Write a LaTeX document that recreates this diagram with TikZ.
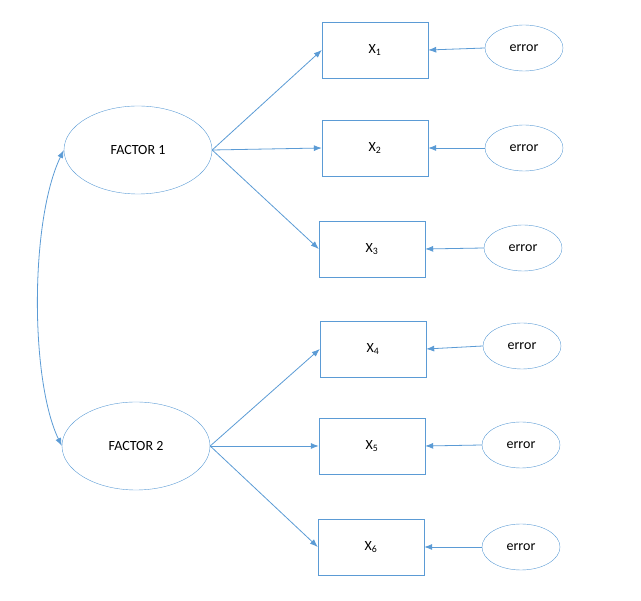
\documentclass[tikz,border=0pt]{standalone}
\usepackage{fontspec}
\setmainfont{Carlito}
\usetikzlibrary{arrows.meta,shapes.geometric}
\definecolor{semblue}{RGB}{91,155,213}
\tikzset{
  factor/.style={draw=semblue, ellipse, minimum width=148pt, minimum height=88pt, inner sep=0pt, font=\fontsize{14}{16}\selectfont},
  item/.style={draw=semblue, rectangle, minimum width=106pt, minimum height=56pt, inner sep=0pt, font=\fontsize{14}{16}\selectfont},
  err/.style={draw=semblue, ellipse, minimum width=78pt, minimum height=46pt, inner sep=0pt, font=\fontsize{14}{16}\selectfont},
  load/.style={draw=semblue, line width=0.8pt, -{Latex[length=8pt,width=6pt]}},
}
\begin{document}
\begin{tikzpicture}[x=1pt,y=-1pt]
  \useasboundingbox (0,0) rectangle (641,601);
  % latent factors
  \node[factor] (f1) at (138,150) {FACTOR 1};
  \node[factor] (f2) at (136,446) {FACTOR 2};
  % indicators
  \node[item] (x1) at (375,50) {X\textsubscript{1}};
  \node[item] (x2) at (375,148) {X\textsubscript{2}};
  \node[item] (x3) at (372,249) {X\textsubscript{3}};
  \node[item] (x4) at (373,349) {X\textsubscript{4}};
  \node[item] (x5) at (372,446) {X\textsubscript{5}};
  \node[item] (x6) at (371,547) {X\textsubscript{6}};
  % error terms
  \node[err] (e1) at (524,48) {error};
  \node[err] (e2) at (524,148) {error};
  \node[err] (e3) at (523,248) {error};
  \node[err] (e4) at (522,346) {error};
  \node[err] (e5) at (521,445) {error};
  \node[err] (e6) at (521,547) {error};
  % loadings
  \foreach \f/\a/\b/\c in {f1/x1/x2/x3, f2/x4/x5/x6} {
    \draw[load] (\f.east) -- (\a.west);
    \draw[load] (\f.east) -- (\b.west);
    \draw[load] (\f.east) -- (\c.west);
  }
  \foreach \i in {1,...,6}
    \draw[load] (e\i.west) -- (x\i.east);
  % covariance
  \draw[load, {Latex[length=8pt,width=6pt]}-{Latex[length=8pt,width=6pt]}] (f1.west) .. controls (30,220) and (30,380) .. (f2.west);
\end{tikzpicture}
\end{document}
